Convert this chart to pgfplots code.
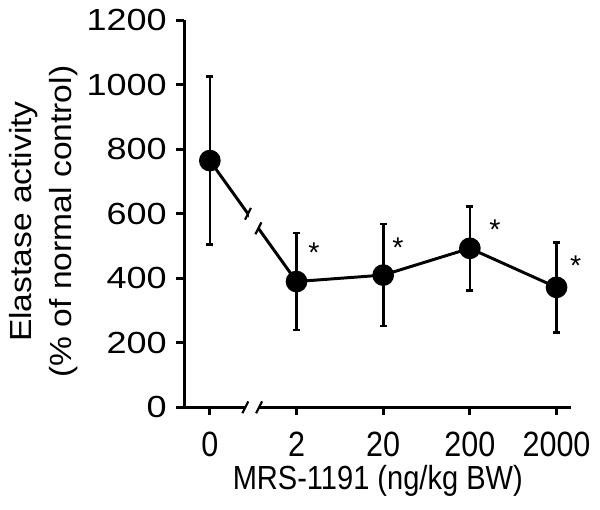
\documentclass[border=0pt]{standalone}
\usepackage{pgfplots}
\pgfplotsset{compat=1.18}
\usepackage{graphicx}
\usepackage{fontspec}
\setmainfont{Liberation Sans}
\begin{document}
\fontsize{29}{36}\selectfont
\begin{tikzpicture}
\begin{axis}[
  name=ax,
  scale only axis, width=393pt, height=393pt,
  xmin=-0.295, xmax=4.17, ymin=0, ymax=1200,
  axis x line*=bottom, axis y line*=left,
  axis line style={line width=2.8pt},
  x axis line style={draw=none},
  tick style={line width=2.8pt, black},
  tick align=outside, major tick length=8pt,
  xtick={0,1,2,3,4},
  xticklabels={\scalebox{1}[1.15]{0},\scalebox{1}[1.15]{2},\scalebox{1}[1.15]{20},\scalebox{1}[1.15]{200},\scalebox{1}[1.15]{2000}},
  xticklabel style={yshift=-7pt},
  ytick={0,200,...,1200},
  yticklabel={\scalebox{1.18}[1]{\pgfmathprintnumber{\tick}}},
  /pgf/number format/assume math mode=true,
  /pgf/number format/1000 sep={},
  ticklabel style={font=\fontsize{31}{36}\selectfont},
  xlabel={\scalebox{1}[1.15]{MRS-1191 (ng/kg BW)}},
  ylabel={\scalebox{1.1}[1]{Elastase activity}\\\scalebox{1.1}[1]{(\% of normal control)}},
  ylabel style={align=center, font=\fontsize{31}{40}\selectfont,
    at={(axis description cs:-0.364,0.48)}, anchor=center},
  xlabel style={font=\fontsize{29.5}{36}\selectfont,
    at={(axis description cs:0.5,-0.19)}, anchor=center},
  clip=false,
]
\addplot[black, line width=3pt, mark=*, mark size=9.5pt,
  mark options={fill=black, solid},
  error bars/.cd, y dir=both, y explicit,
  error bar style={line width=2.7pt, black},
  error mark options={rotate=90, line width=2.7pt, mark size=3.5pt, black}]
  coordinates {
  (0,765) +- (0,260)
  (1,390) +- (0,150)
  (2,410) +- (0,158)
  (3,493) +- (0,130)
  (4,372) +- (0,140)
  };
% break on the line
\fill[white] (axis cs:0.45,535) rectangle (axis cs:0.55,620);
\draw[line width=2.2pt] (axis cs:0.44,600) ++(-3pt,-6pt) -- ++(6pt,12pt);
\draw[line width=2.2pt] (axis cs:0.56,555) ++(-3pt,-6pt) -- ++(6pt,12pt);
% significance marks
\node[anchor=base, inner sep=0pt] at (axis cs:1.20,448) {*};
\node[anchor=base, inner sep=0pt] at (axis cs:2.17,466) {*};
\node[anchor=base, inner sep=0pt] at (axis cs:3.29,520) {*};
\node[anchor=base, inner sep=0pt] at (axis cs:4.22,410) {*};
\end{axis}
% x axis line with a break between 0 and 2
\draw[line width=2.8pt] ([xshift=-1.4pt]ax.south west) -- ([xshift=62pt]ax.south west);
\draw[line width=2.8pt] ([xshift=76pt]ax.south west) -- (ax.south east);
\draw[line width=2.2pt] ([xshift=62pt]ax.south west) ++(-3pt,-6pt) -- ++(6pt,12pt);
\draw[line width=2.2pt] ([xshift=76pt]ax.south west) ++(-3pt,-6pt) -- ++(6pt,12pt);
\path (ax.south west) ++(-183pt,-104pt) rectangle ++(600pt,514pt);
\end{tikzpicture}
\end{document}
